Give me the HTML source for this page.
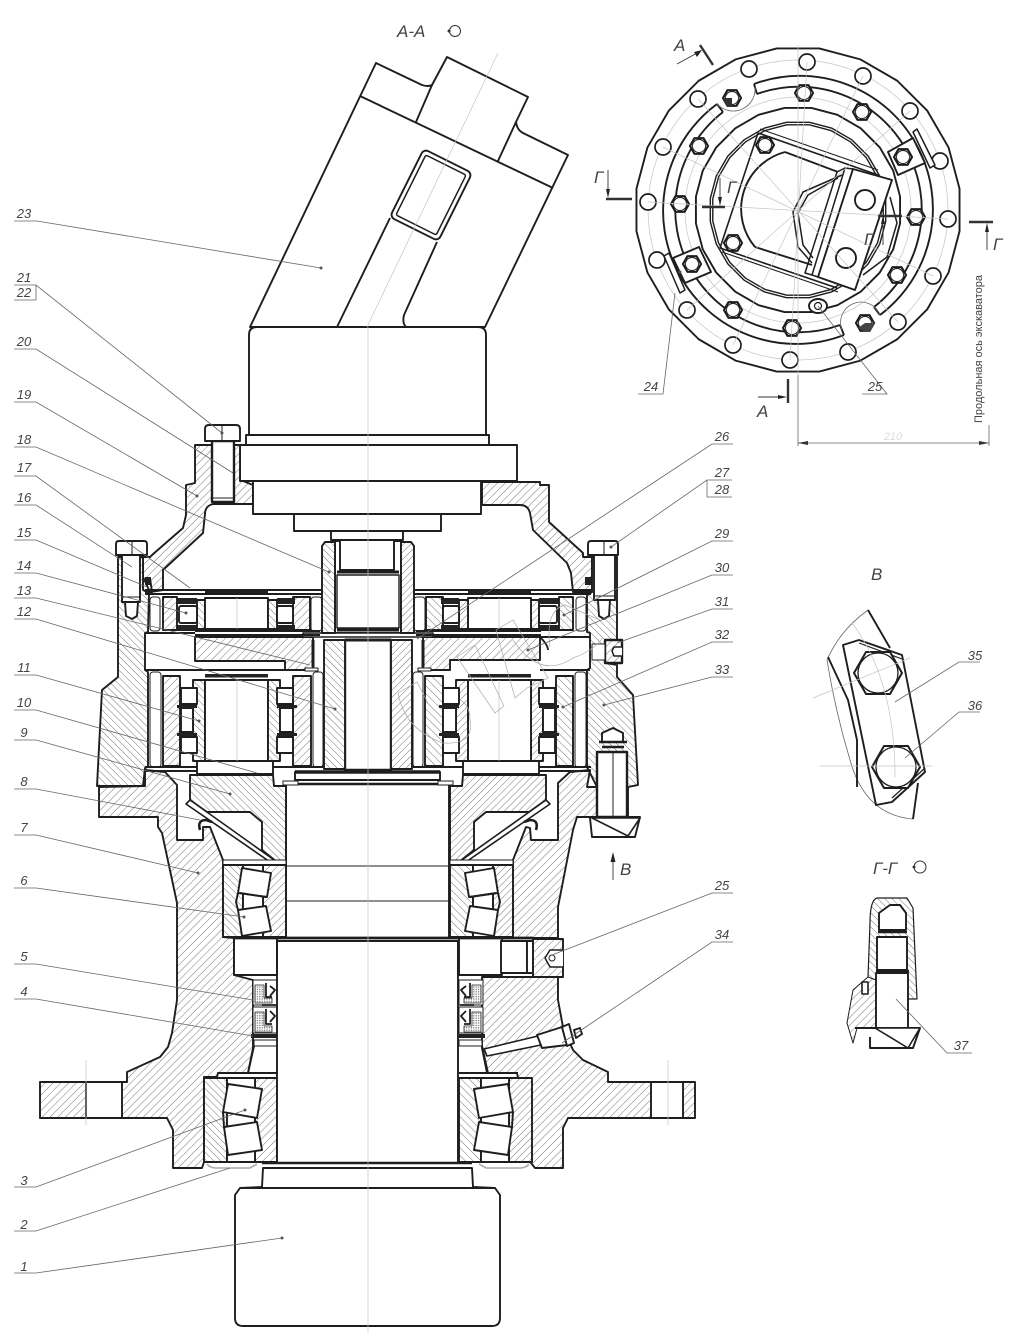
<!DOCTYPE html>
<html lang="ru"><head><meta charset="utf-8"><title>Чертёж редуктора</title>
<style>
html,body{margin:0;padding:0;background:#fff}
svg{display:block;position:absolute;left:0;top:0}
.m{fill:none;stroke:#1e1e1e;stroke-width:1.9;stroke-linejoin:round}
.a{fill:url(#a)}.b{fill:url(#b)}.w{fill:#fff}.d{fill:url(#d)}.k{fill:#222}.n{fill:none}
.t{stroke-width:1}
.l{fill:none;stroke:#666;stroke-width:.8}
.g{fill:none;stroke:#c4c4c4;stroke-width:.7}
.v{fill:none;stroke:#aaa;stroke-width:.7}
text{font-family:"Liberation Sans","DejaVu Sans",sans-serif;font-style:italic;fill:#444;stroke:none;font-size:13px}
.e{text-anchor:middle}
.big{font-size:17px}
circle.o{fill:#555;stroke:none}
</style></head><body>
<svg width="1020" height="1340" viewBox="0 0 1020 1340" xmlns="http://www.w3.org/2000/svg">
<defs>
<pattern id="a" width="5.5" height="5.5" patternUnits="userSpaceOnUse" patternTransform="rotate(45)"><rect width="5.5" height="5.5" fill="#fff"/><line x1="0" y1="0" x2="0" y2="5.5" stroke="#777" stroke-width="1"/></pattern>
<pattern id="b" width="5" height="5" patternUnits="userSpaceOnUse" patternTransform="rotate(-45)"><rect width="5" height="5" fill="#fff"/><line x1="0" y1="0" x2="0" y2="5" stroke="#777" stroke-width="1"/></pattern>
<pattern id="d" width="2.4" height="2.4" patternUnits="userSpaceOnUse"><rect width="2.4" height="2.4" fill="#fff"/><rect width="1.2" height="1.2" fill="#666"/></pattern>
<polygon id="p24" vector-effect="non-scaling-stroke" points="13.05,-99.1 38.3,-92.4 60.9,-79.3 79.3,-60.9 92.4,-38.3 99.1,-13.05 99.1,13.05 92.4,38.3 79.3,60.9 60.9,79.3 38.3,92.4 13.05,99.1 -13.05,99.1 -38.3,92.4 -60.9,79.3 -79.3,60.9 -92.4,38.3 -99.1,13.05 -99.1,-13.05 -92.4,-38.3 -79.3,-60.9 -60.9,-79.3 -38.3,-92.4 -13.05,-99.1"/>
<g id="hx"><polygon class="w" points="9,0 4.5,7.8 -4.5,7.8 -9,0 -4.5,-7.8 4.5,-7.8" stroke-width="2.2"/><circle r="6.5" class="n" stroke-width=".9"/></g>
<circle id="oc" r="8" class="w" stroke-width="1.7"/>

<!-- mirrored half assembly -->
<g id="half">
  <!-- upper planet row -->
  <rect x="150" y="597" width="10" height="34" rx="3" class="w t"/>
  <rect x="163" y="597" width="14" height="33" class="a"/>
  <rect x="197" y="600" width="8" height="29" class="b"/>
  <rect x="205" y="598" width="63" height="31" class="w"/>
  <rect x="205" y="590" width="63" height="5" class="k" stroke="none"/>
  <rect x="268" y="600" width="9" height="29" class="b"/>
  <rect x="293" y="597" width="17" height="33" class="a"/>
  <rect x="177" y="598" width="20" height="6" class="k" stroke="none"/>
  <rect x="177" y="625" width="20" height="6" class="k" stroke="none"/>
  <rect x="277" y="598" width="18" height="6" class="k" stroke="none"/>
  <rect x="277" y="625" width="18" height="6" class="k" stroke="none"/>
  <rect x="179" y="606" width="18" height="17" rx="2" class="w"/>
  <rect x="277" y="606" width="16" height="17" rx="2" class="w"/>
  <rect x="311" y="597" width="11" height="34" rx="3" class="w t"/>
  <path d="M145,590H323M145,594H323M195,631H320M195,635H320"/>
  <path class="b" d="M322,633V546L325,542H335V633Z"/>
  <!-- lower planet row -->
  <rect x="150" y="672" width="11" height="95" rx="3" class="w t"/>
  <rect x="163" y="676" width="17" height="90" class="a"/>
  <rect x="193" y="680" width="12" height="81" class="b"/>
  <rect x="205" y="680" width="63" height="81" class="w"/>
  <rect x="205" y="674" width="63" height="3.5" class="k" stroke="none"/>
  <rect x="268" y="680" width="12" height="81" class="b"/>
  <rect x="293" y="676" width="18" height="90" class="a"/>
  <rect x="181" y="688" width="16" height="16" class="w"/>
  <rect x="181" y="708" width="12" height="24" class="w"/>
  <rect x="181" y="737" width="16" height="16" class="w"/>
  <rect x="277" y="688" width="16" height="16" class="w"/>
  <rect x="280" y="708" width="13" height="24" class="w"/>
  <rect x="277" y="737" width="16" height="16" class="w"/>
  <rect x="177" y="705" width="20" height="3" class="k" stroke="none"/>
  <rect x="177" y="733" width="20" height="3" class="k" stroke="none"/>
  <rect x="277" y="705" width="20" height="3" class="k" stroke="none"/>
  <rect x="277" y="733" width="20" height="3" class="k" stroke="none"/>
  <rect x="313" y="672" width="10" height="95" rx="3" class="w t"/>
  <rect x="324" y="640" width="21" height="129" class="b"/>
  <path stroke-width="3" d="M313,640V667"/>
  <!-- base of carrier -->
  <path d="M145,767H323M145,771H197"/>
  <rect x="197" y="761" width="76" height="13" class="w"/>
  <path class="b" d="M190,775L273,775L274,786L286,786L286,862L277,862L262,850L262,822L250,812L207,812L190,800Z"/>
  <polygon class="w" points="190,800 277,862 286,864 276,866 186,804" stroke-width="1.6"/>
  <path stroke-width="2.6" d="M200,830Q197,820 206,820L212,822"/>
  <!-- bearing 6 -->
  <rect x="223" y="860" width="63" height="5" class="w t"/>
  <rect x="223" y="865" width="20" height="72" class="b"/>
  <rect x="263" y="865" width="23" height="72" class="a"/>
  <rect x="243" y="865" width="20" height="72" class="w"/>
  <polygon class="w" points="242,868 271,873 267,897 238,893"/>
  <polygon class="w" points="238,910 266,906 271,931 242,936"/>
  <path d="M238,893L236,902L238,910M240,893L266,897"/>
  <!-- bearing 3 -->
  <rect x="204" y="1078" width="23" height="84" class="b"/>
  <rect x="255" y="1078" width="22" height="84" class="a"/>
  <rect x="227" y="1078" width="28" height="84" class="w"/>
  <polygon class="w" points="228,1084 262,1089 257,1118 223,1112"/>
  <polygon class="w" points="224,1127 257,1122 262,1150 228,1155"/>
  <path d="M223,1112L224,1127" />
  <path fill="none" stroke="#aaa" stroke-width="1.6" d="M207,1164Q210,1168 216,1168H250L257,1164"/>
  <!-- spacer -->
  <rect x="234" y="938" width="43" height="37" class="w"/>
  <!-- seals -->
  <rect x="253" y="980" width="24" height="25" class="w t"/>
  <rect x="253" y="1007" width="24" height="26" class="w t"/>
  <path class="d" stroke-width=".8" d="M255,985H264V998H272V1003H255Z"/>
  <path class="d" stroke-width=".8" d="M255,1012H264V1026H272V1032H255Z"/>
  <path stroke-width="1.8" d="M266,983V997H272M270,986L275,990L270,996M266,1009V1024H272M270,1011L275,1016L270,1022M262,1005H276"/>
  <rect x="251" y="1034" width="26" height="4" class="k" stroke="none"/>
  <rect x="254" y="1040" width="23" height="6" class="w t"/>
  <path d="M254,1046L248,1073M218,1073H277"/>
</g>
</defs>

<g class="m">
<!-- motor -->
<path class="w" d="M250,327L376,63L422,85Q428,87 432,85L447,57L528,97L516,122Q517,130 523,133L568,155L485,327Z"/>
<path d="M360,96L553,188M432,85L416,122M516,122L498,161M337,327L390,218M437,242L404,315Q402,323 406,327"/>
<g transform="rotate(26.5 431 195)"><rect x="404" y="157" width="54" height="76" rx="5" class="w"/><rect x="408.5" y="161.5" width="45" height="67" rx="2" stroke-width="1.5"/></g>
<path class="w" d="M249,435V335Q249,327 257,327H478Q486,327 486,335V435Z"/>
<rect x="246" y="435" width="243" height="10" class="w"/>
<rect x="240" y="445" width="277" height="36" class="w"/>

<!-- upper cover -->
<path class="a" d="M195,445L240,445L240,481L243,481L253,485L253,504L213,504Q205,506 205,514L203,533L163,570L163,590L150,592L143,577L143,557L150,557L152,555L183,528L186,515L186,485L195,483Z"/>
<path class="a" d="M482,482L540,482L540,485L549,485L549,522L583,553L583,557L592,557L592,592L573,592L571,573L567,563L533,530L530,513Q528,505 520,505L482,505Z"/>
<rect x="253" y="481" width="228" height="33" class="w"/>
<rect x="294" y="514" width="147" height="17" class="w"/>
<rect x="331" y="531" width="72" height="9" class="w"/>

<!-- outer housing -->
<path class="b" d="M118,557L118,677L102,690L97,786L143,786L145,768L148,767L148,672L145,670L145,633L148,632L149,593L143,590L143,557Z"/>
<path class="b" d="M592,557L617,557L617,640L605,640L605,663L617,665L617,677L633,695L638,785L628,787L628,817L597,817L597,787L587,767L587,670L590,668L590,633L587,632L587,595L592,592Z"/>

<!-- hub -->
<path class="a" d="M99,787L99,817L158,817L158,827L162,833L177,903L177,1000L172,1033L168,1047L160,1057L127,1072L127,1082L40,1082L40,1118L167,1118L173,1130L173,1168L202,1168L204,1162L204,1077L217,1077L218,1073L248,1073L253,1048L253,980L234,975L234,938L223,937L223,860L210,827L203,827L203,840L177,840L177,785L165,772L145,770L145,786Z"/>
<path class="a" d="M513,860L526,827L530,828L531,840L558,840L558,783L570,772L590,770L587,787L597,787L597,817L577,817L573,830L558,907L558,938L513,938Z"/>
<path class="a" d="M482,977L558,977L558,1000L563,1027L573,1050L583,1060L608,1072L608,1082L695,1082L695,1118L568,1118L563,1128L563,1168L535,1168L531,1163L531,1078L518,1078L517,1073L487,1073L482,1048Z"/>
<rect x="86" y="1082" width="36" height="36" class="w"/>
<rect x="651" y="1082" width="32" height="36" class="w"/>

<!-- carriers -->
<path class="a" d="M195,637H313V670H285V661H195Z"/>
<path class="a" d="M423,637H540V660H450V670H423Z"/>
<path d="M145,633H195M145,670H285M540,670H590M590,637H540M540,637Q548,645 548,650"/>

<!-- central shaft -->
<rect x="286" y="784" width="163" height="154" class="w"/>
<rect x="335" y="541" width="66" height="92" class="w"/>
<rect x="340" y="540" width="54" height="30" class="w"/>
<rect x="345" y="640" width="46" height="130" class="w" stroke-width="2.4"/>
<path stroke-width="3" d="M337,572H399M337,630H399M345,640H391"/>
<rect x="337" y="575" width="62" height="53" class="w" stroke-width="1.4"/>
<rect x="303" y="633" width="130" height="4" class="w" stroke-width="1.6"/>
<rect x="305" y="668" width="13" height="3" class="w" stroke-width="1"/>
<rect x="418" y="668" width="13" height="3" class="w" stroke-width="1"/>
<path stroke-width="1" d="M286,866H449M286,901H449"/>

<use href="#half"/>
<use href="#half" transform="translate(736 0) scale(-1 1)"/>

<!-- centre base -->
<rect x="295" y="772" width="145" height="8" class="w"/>
<path stroke-width="3.4" d="M295,772H440"/>
<path stroke-width="2.6" d="M285,784H451"/>
<rect x="283" y="781" width="15" height="4" class="w" stroke-width="1"/>
<rect x="438" y="781" width="15" height="4" class="w" stroke-width="1"/>

<!-- main lower shaft -->
<rect x="277" y="941" width="181" height="222" class="w"/>
<path stroke-width="2.8" d="M234,938H533"/>
<path d="M277,975V941M458,975V941"/>
<!-- plug 25 -->
<rect x="501" y="941" width="26" height="32" class="w"/>
<rect x="527" y="941" width="6" height="32" class="w"/>
<rect x="533" y="939" width="30" height="38" class="a"/>
<path class="w" stroke-width="1.5" d="M563,950H550L545,958L550,967H563"/>
<circle cx="552" cy="958" r="3" class="n" stroke-width="1"/>
<!-- bottom drum -->
<path stroke-width="2.6" d="M262,1163H472"/>
<path class="w" d="M263,1168H472L473,1187L495,1188L500,1195V1318Q500,1326 492,1326H243Q235,1326 235,1318V1195L240,1188L262,1187Z"/>
<path d="M240,1188H495" />

<!-- bolts -->
<rect x="212" y="441" width="22" height="61" class="w" stroke-width="2.4"/>
<path class="w" d="M205,441V429Q205,425 209,425H236Q240,425 240,429V441Z"/>
<path stroke-width="1" d="M222,425V441M212,498H234"/>
<path class="w" d="M116,555V544Q116,541 119,541H144Q147,541 147,544V555Z"/>
<rect x="122" y="555" width="18" height="47" class="w"/>
<path class="w" d="M125,602H138L137,616L132,619L126,616Z"/>
<path stroke-width="1" d="M132,541V555M122,597H140"/>
<path class="w" d="M588,555V544Q588,541 591,541H615Q618,541 618,544V555Z"/>
<rect x="594" y="555" width="21" height="45" class="w"/>
<path class="w" d="M598,600H610L609,616L604,619L599,616Z"/>
<path stroke-width="1" d="M604,541V555M594,596H615"/>
<!-- small seals -->
<rect x="145" y="577" width="6" height="8" class="k" stroke="none"/>
<rect x="585" y="577" width="6" height="8" class="k" stroke="none"/>
<path d="M145,592H152L150,578M592,592H587"/>
<!-- plug 31 -->
<rect x="605" y="640" width="17" height="23" class="a" stroke-width="2.4"/>
<path class="w" stroke-width="1.5" d="M622,647H614L612,651L614,656H622"/>
<rect x="592" y="644" width="13" height="16" class="w" stroke-width="1"/>
<!-- lower right bolt -->
<rect x="597" y="752" width="30" height="65" class="w" stroke-width="2.4"/>
<path class="w" d="M602,742V733L613,728L623,733V742"/>
<path stroke-width="2.4" d="M599,742H627M602,747H624"/>
<path class="w" d="M577,817H640L635,837H592L590,818"/>
<path class="w" stroke-width="1.6" d="M592,818L628,836L640,818Z"/>
<path stroke-width="1" d="M613,752V817"/>
<!-- grease fitting 34 -->
<path class="w" stroke-width="1.6" d="M484,1049L538,1036L541,1045L487,1056Z"/>
<polygon class="w" points="537,1035 562,1027 567,1045 542,1048"/>
<polygon class="w" points="562,1027 569,1024 574,1043 567,1046"/>
<polygon class="w" points="574,1030 580,1028 582,1034 576,1038"/>
</g>

<!-- axes on top -->
<path class="g" d="M498,53L367,327M368,327V1332M237,598V629M237,680V761M499,598V629M499,680V761M86,1060V1125M668,1060V1125"/>

<!-- watermark -->
<path class="v" d="M457,657L475,645L504,706L495,713ZM496,630L513,620L548,678L527,688L515,698ZM398,693L417,682L428,703M398,693Q405,730 443,743Q475,745 470,720Q470,705 460,700M513,640Q540,680 573,658Q595,650 603,637M550,647Q545,610 565,605L600,620"/>

<!-- arrow В -->
<path style="stroke:#222;fill:none;stroke-width:.8" d="M613,880V858"/><polygon points="613,852 610.5,862 615.5,862" fill="#222"/>
<text x="620" y="875" class="big">В</text>
<text x="397" y="37" class="big">А-А</text>
<circle cx="455" cy="31" r="5.5" fill="none" stroke="#333" stroke-width="1"/><circle cx="449" cy="31" r="1.5" fill="#333"/>

<!-- leaders left -->
<path class="l" d="M14,221H37L321,268M14,285H36L222,433M14,300H36M36,285V300M14,349H36L233,473M14,402H36L197,496M14,447H36L329,572M14,476H36L190,588M14,505H36L132,567M14,540H36L147,587M14,573H36L186,613M14,598H36L310,665M14,619H36L335,709M14,675H36L199,721M14,710H36L257,773M14,740H36L230,794M14,789H36L200,820M14,835H36L198,873M14,888H36L244,917M14,964H36L253,1000M14,999H36L253,1036M14,1187H36L245,1110M14,1231H36L230,1168M14,1273H36L282,1238"/>
<g>
<text x="24" y="218" class="e">23</text><text x="24" y="282" class="e">21</text><text x="24" y="297" class="e">22</text><text x="24" y="346" class="e">20</text><text x="24" y="399" class="e">19</text><text x="24" y="444" class="e">18</text><text x="24" y="472" class="e">17</text><text x="24" y="502" class="e">16</text><text x="24" y="537" class="e">15</text><text x="24" y="570" class="e">14</text><text x="24" y="595" class="e">13</text><text x="24" y="616" class="e">12</text><text x="24" y="672" class="e">11</text><text x="24" y="707" class="e">10</text><text x="24" y="737" class="e">9</text><text x="24" y="786" class="e">8</text><text x="24" y="832" class="e">7</text><text x="24" y="885" class="e">6</text><text x="24" y="961" class="e">5</text><text x="24" y="996" class="e">4</text><text x="24" y="1185" class="e">3</text><text x="24" y="1229" class="e">2</text><text x="24" y="1271" class="e">1</text>
</g>
<g>
<circle class="o" cx="321" cy="268" r="1.5"/><circle class="o" cx="222" cy="433" r="1.5"/><circle class="o" cx="197" cy="496" r="1.5"/><circle class="o" cx="329" cy="572" r="1.5"/><circle class="o" cx="186" cy="613" r="1.5"/><circle class="o" cx="335" cy="709" r="1.5"/><circle class="o" cx="199" cy="721" r="1.5"/><circle class="o" cx="230" cy="794" r="1.5"/><circle class="o" cx="198" cy="873" r="1.5"/><circle class="o" cx="244" cy="917" r="1.5"/><circle class="o" cx="245" cy="1110" r="1.5"/><circle class="o" cx="282" cy="1238" r="1.5"/><circle class="o" cx="611" cy="547" r="1.5"/><circle class="o" cx="564" cy="615" r="1.5"/><circle class="o" cx="528" cy="650" r="1.5"/><circle class="o" cx="563" cy="707" r="1.5"/><circle class="o" cx="604" cy="705" r="1.5"/><circle class="o" cx="895" cy="702" r="1.5"/><circle class="o" cx="905" cy="758" r="1.5"/><circle class="o" cx="896" cy="999" r="1.5"/>
</g>
<!-- leaders right -->
<path class="l" d="M733,444H712L417,639M732,480H707L611,547M707,480V497M732,497H707M733,541H712L564,615M733,575H712L528,650M733,609H712L617,643M733,642H712L563,707M733,677H712L604,705M733,893H712L552,955M733,942H712L562,1043"/>
<text x="722" y="441" class="e">26</text><text x="722" y="477" class="e">27</text><text x="722" y="494" class="e">28</text><text x="722" y="538" class="e">29</text><text x="722" y="572" class="e">30</text><text x="722" y="606" class="e">31</text><text x="722" y="639" class="e">32</text><text x="722" y="674" class="e">33</text><text x="722" y="890" class="e">25</text><text x="722" y="939" class="e">34</text>

<!-- PLAN VIEW -->
<g class="g"><circle cx="798" cy="210" r="150"/><circle cx="798" cy="210" r="113"/></g>
<g class="m" stroke-width="1.9">
<use href="#p24" transform="translate(798 210) scale(1.63)"/>
<use href="#p24" transform="translate(798 210) scale(1.03)"/>
<use href="#p24" transform="translate(798 210) scale(.885)" style="stroke-width:1.4"/>
<use href="#p24" transform="translate(798 210) scale(.86)" style="stroke-width:1.4"/>
<path d="M754,84A133,133 0 0 1 880,315M757,94A123,123 0 0 1 874,307M754,84L757,94M880,315L874,307"/>
<path d="M844,335A133,133 0 0 1 717,104M840,325A123,123 0 0 1 723,112M844,335L840,325M717,104L723,112"/>
<path class="l" d="M717,104A22,22 0 0 0 755,87M842,330A20,20 0 0 1 880,315"/>
<use href="#oc" x="749" y="69"/><use href="#oc" x="807" y="62"/><use href="#oc" x="863" y="76"/><use href="#oc" x="910" y="111"/><use href="#oc" x="940" y="161"/><use href="#oc" x="948" y="219"/><use href="#oc" x="933" y="276"/><use href="#oc" x="898" y="322"/><use href="#oc" x="848" y="352"/><use href="#oc" x="790" y="360"/><use href="#oc" x="733" y="345"/><use href="#oc" x="687" y="310"/><use href="#oc" x="657" y="260"/><use href="#oc" x="648" y="202"/><use href="#oc" x="663" y="147"/><use href="#oc" x="698" y="99"/>
<polygon class="w" points="888,152 913,138 925,163 898,175"/>
<polygon class="w" points="913,132 917,129 935,165 930,168" stroke-width="1.5"/>
<polygon class="w" points="673,258 699,247 711,272 685,283"/>
<polygon class="w" points="664,256 669,253 685,290 680,293" stroke-width="1.5"/>
<use href="#hx" x="804" y="93"/><use href="#hx" x="862" y="112"/><use href="#hx" x="903" y="157"/><use href="#hx" x="916" y="217"/><use href="#hx" x="897" y="275"/><use href="#hx" x="865" y="323"/><use href="#hx" x="792" y="328"/><use href="#hx" x="733" y="310"/><use href="#hx" x="692" y="264"/><use href="#hx" x="680" y="204"/><use href="#hx" x="699" y="146"/><use href="#hx" x="732" y="98"/>
<path fill="#333" stroke="none" d="M732,98H723A9,9 0 0 0 732,107Z"/>
<path fill="#444" stroke="none" d="M865,323H874A9,9 0 0 1 865,332L858,328Z"/>
<!-- motor plan -->
<path stroke-width="1.6" d="M758,133L878,175M720,248L837,288M758,133L720,248"/>
<path stroke-width="1.1" d="M760,129L878,170M722,252L838,292"/>
<path d="M785,152L838,172M755,247L812,265M785,152A59,59 0 0 0 755,247"/>
<path stroke-width="1.5" d="M842,175L803,192L793,212L798,247L812,263M838,178L808,195L798,213L803,245L813,258"/>
<path stroke-width="1.5" d="M890,197L897,223L887,257L863,275"/>
<polygon class="w" points="853,169 892,180 855,290 818,277"/>
<path stroke-width="1.5" d="M837,172L845,168L853,169M837,172L805,273L812,275M845,168L812,275L818,277"/>
<circle cx="865" cy="200" r="10" class="w"/><circle cx="846" cy="258" r="10" class="w"/>
<use href="#hx" x="765" y="145"/><use href="#hx" x="733" y="243"/>
<ellipse cx="818" cy="306" rx="9" ry="7" class="w"/><circle cx="818" cy="306" r="3.5" class="n" stroke-width="1.2"/>
</g>
<g class="g"><path d="M648,202L948,219M807,62L790,360M698,99L898,322M663,147L933,276M733,345L863,76M687,310L910,111M798,45V375"/></g>
<g stroke="#333" fill="none">
<path stroke-width="2.4" d="M606,199H632M702,207H725M878,216H902M969,222H993M700,45L713,65M788,379V403"/>
<path stroke-width=".9" d="M608,170V195M720,178V203M883,245V219M987,250V226M677,64L699,52M758,397H784"/>
</g>
<g fill="#222"><polygon points="608,198 606,189 610,189"/><polygon points="720,206 718,197 722,197"/><polygon points="883,215 881,224 885,224"/><polygon points="987,223 985,232 989,232"/><polygon points="702,50 694,52 697,57"/><polygon points="787,397 778,395 778,399"/></g>
<text x="594" y="183" class="big">Г</text><text x="727" y="193" class="big">Г</text><text x="864" y="245" class="big">Г</text><text x="993" y="250" class="big">Г</text><text x="674" y="51" class="big">А</text><text x="757" y="417" class="big">А</text>
<path class="l" d="M638,394H663L675,293M862,394H887L818,306"/>
<text x="651" y="391" class="e">24</text><text x="875" y="391" class="e">25</text>
<circle class="o" cx="680" cy="272" r="1.5"/>
<!-- dimension -->
<path class="l" d="M798,375V446M989,425V446M798,443H989"/>
<polygon points="798,443 808,441 808,445" fill="#333"/><polygon points="989,443 979,441 979,445" fill="#333"/>
<text x="893" y="440" class="e" style="fill:#ddd;font-size:11px">210</text>
<text transform="translate(982 423) rotate(-90)" textLength="148" lengthAdjust="spacingAndGlyphs" style="font-style:normal;font-size:11px">Продольная ось экскаватора</text>

<!-- VIEW В -->
<text x="871" y="580" class="big">В</text>
<path class="l" stroke-width=".7" d="M868,610Q840,630 827,660Q835,710 850,760Q865,815 913,819"/>
<g class="m">
<path d="M868,610L890,648M828,657L848,700L857,740V787M918,783L913,819"/>
<polygon class="w" points="843,645 859,640 902,655 925,772 892,802 876,805"/>
<path stroke-width="1.2" d="M859,643L902,659M892,798L925,768"/>
<polygon class="w" stroke-width="2" points="902,673 890,694 866,694 854,673 866,652 890,652"/>
<circle cx="878" cy="673" r="20" class="n" stroke-width="1.3"/>
<polygon class="w" stroke-width="2" points="920,767 908,788 884,788 872,767 884,746 908,746"/>
<circle cx="896" cy="767" r="20" class="n" stroke-width="1.3"/>
</g>
<path class="g" d="M813,698L910,658M820,766H932M852,623Q895,680 895,777"/>
<path class="l" d="M980,662H959L895,702M980,712H959L905,758"/>
<text x="975" y="660" class="e">35</text><text x="975" y="710" class="e">36</text>

<!-- SECTION Г-Г -->
<text x="873" y="874" class="big">Г-Г</text>
<circle cx="920" cy="867" r="6" fill="none" stroke="#333" stroke-width="1"/><circle cx="914" cy="867" r="1.5" fill="#333"/>
<g class="m">
<path class="b" stroke-width="1.2" d="M870,923Q870,900 877,898H907L913,908L917,999H868L868,977Z"/>
<path class="a" stroke-width="1" d="M868,977L853,990L847,1023L853,1043L857,1028H876V980Z"/>
<path class="w" d="M879,913L890,905H900L906,913V930H879Z"/>
<path class="w" d="M877,937H907V970H877Z"/>
<path stroke-width="2.6" d="M878,932H907M876,971H909"/>
<rect x="876" y="973" width="32" height="55" class="w"/>
<path class="w" d="M855,1028H920L913,1048H870L870,1037"/>
<path class="w" stroke-width="1.6" d="M875,1028L908,1048L920,1028Z"/>
<rect x="862" y="982" width="6" height="12" class="w" stroke-width="1.6"/>
</g>
<path class="l" d="M896,999L947,1053H972"/><text x="961" y="1050" class="e">37</text>
</svg>
</body></html>
